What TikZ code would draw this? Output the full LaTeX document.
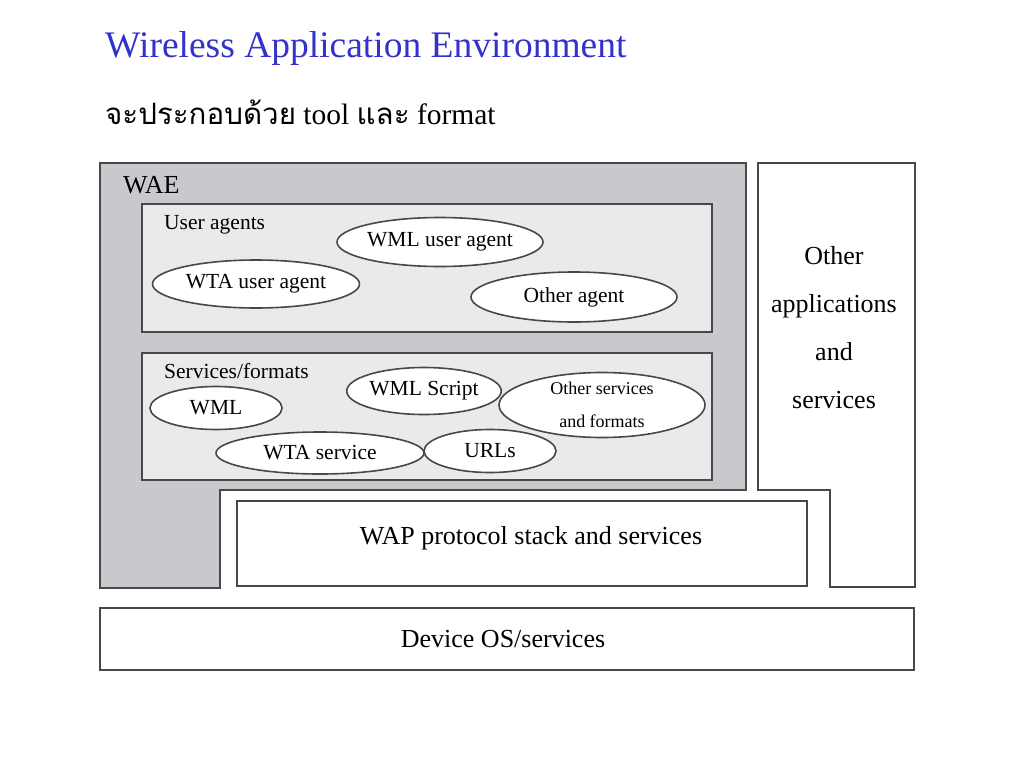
\documentclass[tikz,border=0pt]{standalone}
\usepackage{fontspec}
\setmainfont{Liberation Serif}
\newfontfamily\thaifont[Script=Thai]{Loma}
\usetikzlibrary{positioning,shapes.geometric}
\definecolor{titleblue}{RGB}{51,51,204}
\definecolor{edgegray}{RGB}{72,72,72}
\definecolor{waegray}{RGB}{200,200,205}
\definecolor{boxgray}{RGB}{234,234,237}

\begin{document}
\begin{tikzpicture}[x=1pt,y=-1pt,
  box/.style={draw=edgegray, line width=2pt},
  agent/.style={draw=edgegray, line width=1.6pt, fill=white, ellipse, inner sep=0pt, font=\fontsize{21.5}{24}\selectfont},
  big/.style={font=\fontsize{26}{30}\selectfont},
  small/.style={font=\fontsize{21.5}{24}\selectfont}]
  \useasboundingbox (0,0) rectangle (1024,768);

  % Title lines
  \node[anchor=west, inner sep=0pt, text=titleblue, font=\fontsize{37.5}{42}\selectfont] (title) at (105,48) {Wireless Application Environment};
  \node[anchor=west, inner sep=0pt, font=\fontsize{29.5}{34}\selectfont] (subtitle) at (105,112) {{\thaifont จะประกอบด้วย} tool {\thaifont และ} format};

  % WAE area (L-shaped, shaded)
  \filldraw[box, fill=waegray] (100,163) -- (746,163) -- (746,490) -- (220,490) -- (220,588) -- (100,588) -- cycle;
  \node[anchor=west, inner sep=0pt, big] (wae) at (123,185) {WAE};

  % User agents
  \filldraw[box, fill=boxgray] (142,204) rectangle (712,332);
  \node[anchor=west, inner sep=0pt, small] (useragents) at (164,225) {User agents};
  \node[agent, minimum width=203pt, minimum height=49pt] (wmlua) at (440,242) {WML user agent};
  \node[agent, minimum width=207pt, minimum height=48pt] (wtaua) at (256,284) {WTA user agent};
  \node[agent, minimum width=206pt, minimum height=50pt] (otheragent) at (574,297) {Other agent};

  % Services/formats
  \filldraw[box, fill=boxgray] (142,353) rectangle (712,480);
  \node[anchor=west, inner sep=0pt, small] (services) at (164,371) {Services/formats};
  \node[agent, minimum width=132pt, minimum height=43pt] (wml) at (216,408) {WML};
  \node[agent, minimum width=150pt, minimum height=47pt] (wmlscript) at (424,391) {WML Script};
  \node[agent, minimum width=206pt, minimum height=65pt, align=center, font=\fontsize{18}{33}\selectfont] (otherservices) at (602,405) {Other services\\and formats};
  \node[agent, minimum width=208pt, minimum height=42pt] (wtaservice) at (320,453) {WTA service};
  \node[agent, minimum width=132pt, minimum height=43pt] (urls) at (490,451) {URLs};

  % Other applications (L-shaped)
  \draw[box] (758,163) -- (915,163) -- (915,587) -- (830,587) -- (830,490) -- (758,490) -- cycle;
  \node[align=center, font=\fontsize{26}{48}\selectfont] (otherapps) at (834,328) {Other\\applications\\and\\services};

  % Protocol stack and device layers
  \draw[box] (237,501) rectangle (807,586);
  \node[big] (wap) at (531,538) {WAP protocol stack and services};
  \draw[box] (100,608) rectangle (914,670);
  \node[big] (device) at (503,639) {Device OS/services};
\end{tikzpicture}
\end{document}
